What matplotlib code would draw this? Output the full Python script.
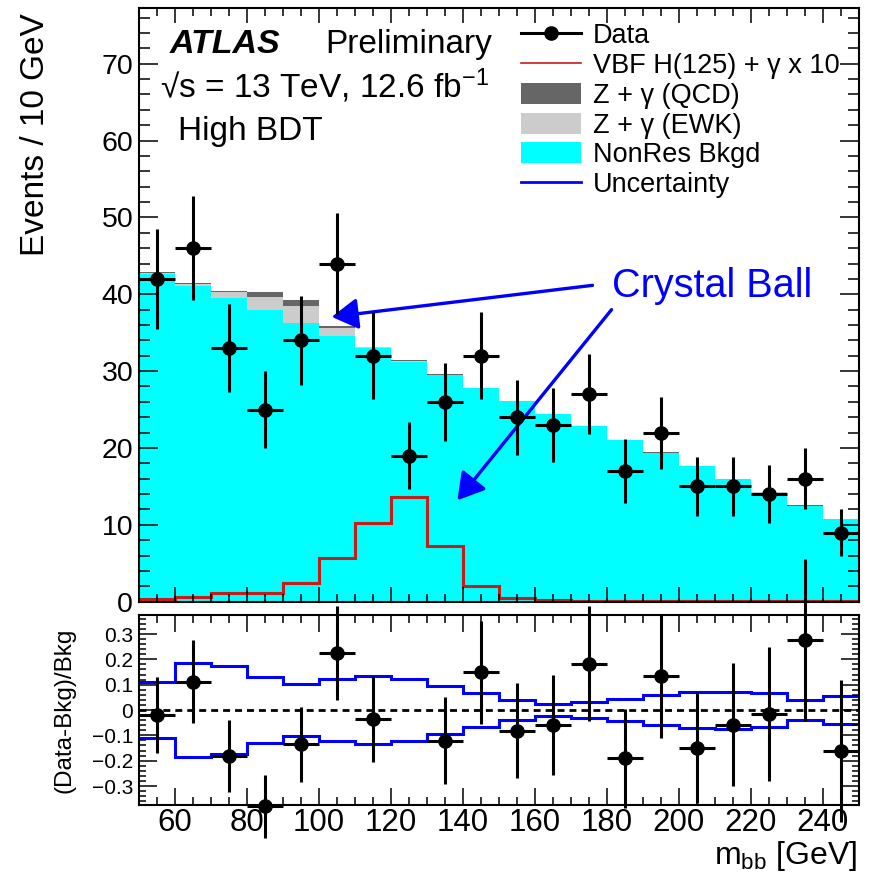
import numpy as np
import matplotlib
matplotlib.use('Agg')
import matplotlib.pyplot as plt
from matplotlib.lines import Line2D
from matplotlib.patches import Patch
from matplotlib.ticker import MultipleLocator, FuncFormatter

plt.rcParams['font.family'] = ['Liberation Sans', 'DejaVu Sans']
plt.rcParams['mathtext.fontset'] = 'custom'
plt.rcParams['mathtext.rm'] = 'Liberation Sans'
plt.rcParams['mathtext.it'] = 'Liberation Sans:italic'
plt.rcParams['mathtext.bf'] = 'Liberation Sans:bold'

# m_bb bins, 10 GeV wide
edges = np.arange(50, 251, 10)
centers = edges[:-1] + 5

data = [42, 46, 33, 25, 34, 44, 32, 19, 26, 32, 24, 23, 27, 17, 22, 15, 15, 14, 16, 9]
nonres = [42.6, 41.1, 39.5, 37.9, 36.2, 34.6, 33.0, 31.2, 29.5, 27.8,
          26.1, 24.4, 22.8, 21.0, 19.4, 17.6, 15.9, 14.2, 12.5, 10.7]
zg_ewk = [0.2, 0.25, 0.8, 1.75, 2.3, 0.95, 0.1, 0.1, 0.05, 0.03,
          0.02, 0.02, 0.02, 0.01, 0.01, 0.01, 0.01, 0.01, 0.01, 0.01]
zg_qcd = [0.05, 0.05, 0.1, 0.65, 0.8, 0.35, 0.1, 0.1, 0.05, 0.02,
          0.01, 0.01, 0.01, 0.01, 0.01, 0.01, 0.01, 0.01, 0.01, 0.01]
signal_x10 = [0.35, 0.65, 1.1, 1.15, 2.45, 5.7, 10.3, 13.6, 7.2, 2.05,
              0.45, 0.22, 0.15, 0.12, 0.1, 0.08, 0.07, 0.06, 0.05, 0.05]
unc = [0.112, 0.186, 0.174, 0.129, 0.103, 0.122, 0.134, 0.122, 0.096, 0.067,
       0.040, 0.024, 0.031, 0.045, 0.060, 0.072, 0.073, 0.066, 0.041, 0.055]

data = np.array(data, dtype=float)
nonres = np.array(nonres)
s1 = nonres + np.array(zg_ewk)
bkg = s1 + np.array(zg_qcd)
unc = np.array(unc)

CYAN = '#00ffff'
RED = '#c41e1a'
BLUE = '#0000ff'

fig = plt.figure(figsize=(8.74, 8.77), dpi=100)
ax = fig.add_axes([0.1587, 0.3139, 0.8241, 0.6766])
axr = fig.add_axes([0.1587, 0.0821, 0.8241, 0.2166], sharex=ax)

# stacked backgrounds
ax.stairs(bkg, edges, baseline=s1, fill=True, color='#666666', lw=0)
ax.stairs(s1, edges, baseline=nonres, fill=True, color='#cccccc', lw=0)
ax.stairs(nonres, edges, baseline=0, fill=True, color=CYAN, lw=0)
ax.stairs(signal_x10, edges, baseline=None, color=RED, lw=2.2)

ax.errorbar(centers, data, xerr=5, yerr=np.sqrt(data), fmt='o', color='k',
            ms=9.5, elinewidth=2.2, capsize=0, zorder=5)

ax.set_xlim(50, 250)
ax.set_ylim(0, 77.2)
ax.yaxis.set_major_locator(MultipleLocator(10))
ax.yaxis.set_minor_locator(MultipleLocator(2))
ax.xaxis.set_major_locator(MultipleLocator(20))
ax.xaxis.set_minor_locator(MultipleLocator(5))
ax.tick_params(which='both', direction='in', top=True, right=True, width=1.1)
ax.tick_params(axis='y', which='major', length=14, labelsize=20.5, pad=4)
ax.tick_params(axis='y', which='minor', length=8)
ax.tick_params(axis='x', which='major', length=11, labelbottom=False)
ax.tick_params(axis='x', which='minor', length=5.5)
ax.set_ylabel('Events / 10 GeV', fontsize=24, loc='top')
ax.yaxis.set_label_coords(-0.122, 0.992)

# text block
ax.text(0.0435, 0.925, 'ATLAS', transform=ax.transAxes, fontsize=24.5,
        fontweight='bold', fontstyle='italic', va='baseline')
ax.text(0.2587, 0.925, 'Preliminary', transform=ax.transAxes, fontsize=24,
        va='baseline')
ax.text(0.0296, 0.849, '√s = 13 TeV, 12.6 fb$\\mathregular{^{-1}}$',
        transform=ax.transAxes, fontsize=24, va='baseline')
ax.text(0.0546, 0.778, 'High BDT', transform=ax.transAxes, fontsize=24,
        va='baseline')

# Crystal Ball annotation
ax.text(181.4, 39.7, 'Crystal Ball', color=BLUE, fontsize=28.5, va='baseline')
arrow = dict(arrowstyle='-|>,head_length=1.6,head_width=0.95', color=BLUE,
             lw=2.4, shrinkA=0, shrinkB=0, mutation_scale=10)
ax.annotate('', xy=(103.6, 37.06), xytext=(176.0, 41.16), arrowprops=arrow)
ax.annotate('', xy=(138.5, 13.2), xytext=(181.3, 38.0), arrowprops=arrow)

handles = [
    Line2D([], [], color='k', marker='o', ms=9.5, lw=2.2),
    Line2D([], [], color=RED, lw=1.2),
    Patch(facecolor='#666666', edgecolor='none'),
    Patch(facecolor='#cccccc', edgecolor='none'),
    Patch(facecolor=CYAN, edgecolor='none'),
    Line2D([], [], color=BLUE, lw=2.0),
]
labels = ['Data', 'VBF H(125) + γ x 10', 'Z + γ (QCD)', 'Z + γ (EWK)',
          'NonRes Bkgd', 'Uncertainty']
ax.legend(handles, labels, loc='upper left', bbox_to_anchor=(0.531, 0.975),
          frameon=False, fontsize=19.5, handlelength=2.2, handleheight=0.82,
          handletextpad=0.45, labelspacing=0.14, borderpad=0, borderaxespad=0)

# ratio panel
ratio = data / bkg - 1
rerr = np.sqrt(data) / bkg
shown = np.abs(ratio) <= 0.385
axr.stairs(unc, edges, baseline=None, color=BLUE, lw=2.2)
axr.stairs(-unc, edges, baseline=None, color=BLUE, lw=2.2)
axr.axhline(0, color='k', ls='--', lw=2, dashes=(2.5, 1.8))
axr.errorbar(centers[shown], ratio[shown], xerr=5, yerr=rerr[shown], fmt='o',
             color='k', ms=9.5, elinewidth=2.2, capsize=0, zorder=5,
             clip_on=False)

axr.set_ylim(-0.375, 0.375)
axr.yaxis.set_major_locator(MultipleLocator(0.1))
axr.yaxis.set_minor_locator(MultipleLocator(0.02))
axr.yaxis.set_major_formatter(
    FuncFormatter(lambda v, p: f'{round(v, 2):g}'.replace('-', '\u2212')))
axr.tick_params(which='both', direction='in', top=True, right=True, width=1.1)
axr.tick_params(axis='y', which='major', length=13, labelsize=15, pad=4)
axr.tick_params(axis='y', which='minor', length=5)
axr.tick_params(axis='x', which='major', length=12, labelsize=22.5, pad=2)
axr.tick_params(axis='x', which='minor', length=6)
axr.set_ylabel('(Data-Bkg)/Bkg', fontsize=17.5)
axr.yaxis.set_label_coords(-0.088, 0.5)
axr.set_xlabel('$\\mathregular{m_{bb}}$ [GeV]', fontsize=23, loc='right')
axr.xaxis.set_label_coords(0.997, -0.18)

for a in (ax, axr):
    for sp in a.spines.values():
        sp.set_linewidth(1.5)

fig.savefig('out.png', dpi=100)
